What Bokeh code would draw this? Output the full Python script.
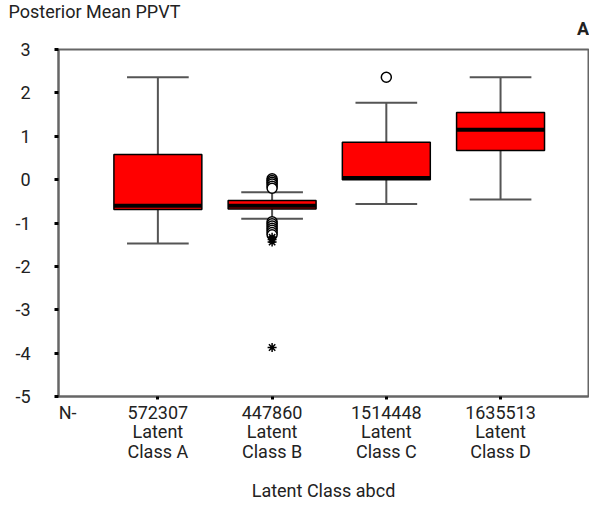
from bokeh.plotting import figure
from bokeh.models import FixedTicker, Range1d, LinearAxis, CustomLabelingPolicy
from bokeh.embed import file_html
from bokeh.resources import INLINE

categories = ["Latent\nClass A", "Latent\nClass B", "Latent\nClass C", "Latent\nClass D"]
n_counts = ["572307", "447860", "1514448", "1635513"]
q1 = [-0.69, -0.68, 0.00, 0.67]
median = [-0.60, -0.60, 0.04, 1.15]
q3 = [0.58, -0.48, 0.86, 1.55]
lower = [-1.47, -0.90, -0.56, -0.46]
upper = [2.36, -0.29, 1.77, 2.36]

circle_out_x = [2]*13 + [3]
circle_out_y = [0.02, -0.02, -0.06, -0.10, -0.15, -0.20,
                -0.97, -1.02, -1.07, -1.12, -1.17, -1.22, -1.27, 2.36]
star_out_x = [2, 2, 2, 2]
star_out_y = [-1.33, -1.38, -1.44, -3.87]

y_ticks = [-5, -4, -3, -2, -1, 0, 1, 2, 3]
y_tick_labels = ["-5", "-4", "-3", "-2", "-1", "0", "1", "2", "3"]

FONT = "Roboto"
TXT = "#222222"

p = figure(width=589, height=510, output_backend="svg", toolbar_location=None,
           x_range=Range1d(0.13, 4.77), y_range=Range1d(-5, 3),
           frame_width=530, frame_height=347,
           min_border_left=58, min_border_right=1, min_border_top=49, min_border_bottom=10)
p.grid.visible = False
p.outline_line_color = "#666666"
p.outline_line_width = 2
p.background_fill_color = "white"
p.border_fill_color = "white"

xs = [1, 2, 3, 4]
bw = 0.77
cw = 0.54
# whiskers
p.segment(x0=xs, y0=q3, x1=xs, y1=upper, line_color="#555555", line_width=2)
p.segment(x0=xs, y0=q1, x1=xs, y1=lower, line_color="#555555", line_width=2)
p.segment(x0=[x - cw/2 for x in xs], y0=upper, x1=[x + cw/2 for x in xs], y1=upper,
          line_color="#555555", line_width=2)
p.segment(x0=[x - cw/2 for x in xs], y0=lower, x1=[x + cw/2 for x in xs], y1=lower,
          line_color="#555555", line_width=2)
# boxes
p.vbar(x=xs, width=bw, top=q3, bottom=q1, fill_color="#ff0000", line_color="black", line_width=1.5)
p.segment(x0=[x - bw/2 for x in xs], y0=median, x1=[x + bw/2 for x in xs], y1=median,
          line_color="black", line_width=4)
# outliers
p.scatter(x=circle_out_x, y=circle_out_y, marker="circle", size=10,
          fill_color="white", line_color="black", line_width=1.5)
p.scatter(x=star_out_x, y=star_out_y, marker="asterisk", size=9,
          line_color="black", line_width=1.5)

# y axis
ya = p.yaxis[0]
ya.axis_line_color = "#666666"
ya.axis_line_width = 2
ya.major_tick_line_color = "black"
ya.major_tick_line_width = 3
ya.major_tick_in = 0
ya.major_tick_out = 4
ya.minor_tick_line_color = None
ya.major_label_text_font = FONT
ya.major_label_text_font_size = "18px"
ya.major_label_text_color = TXT
ya.ticker = FixedTicker(ticks=y_ticks)
ya.major_label_overrides = {t: s for t, s in zip(y_ticks, y_tick_labels)}
ya.major_label_standoff = 24

# x axis (tick marks only, nearest the frame)
xa = p.xaxis[0]
xa.ticker = FixedTicker(ticks=xs)
xa.axis_line_color = "#666666"
xa.axis_line_width = 2
xa.major_tick_line_color = "black"
xa.major_tick_line_width = 3
xa.major_tick_in = 0
xa.major_tick_out = 3
xa.minor_tick_line_color = None
xa.major_label_standoff = 0
xa.major_label_text_font_size = "1px"
xa.major_label_policy = CustomLabelingPolicy(
    code="for (const i of Array.from(indices)) { indices.unset(i) }\nreturn indices")

# x axis labels (N- and class labels)
label_ticks = [0.21] + xs
label_texts = ["N-"] + [f"{n}\n{c}" for n, c in zip(n_counts, categories)]
xl = LinearAxis(ticker=FixedTicker(ticks=label_ticks),
                major_label_overrides={t: s for t, s in zip(label_ticks, label_texts)},
                axis_line_color=None, major_tick_line_color=None, minor_tick_line_color=None,
                major_tick_out=0, major_tick_in=0, major_label_standoff=-2,
                major_label_text_font=FONT, major_label_text_font_size="18px",
                major_label_text_color=TXT, major_label_text_line_height=0.95,
                axis_label="Latent Class abcd", axis_label_text_font=FONT,
                axis_label_text_font_size="18px", axis_label_text_font_style="normal",
                axis_label_text_color=TXT, axis_label_standoff=15)
p.add_layout(xl, "below")

# panel letter on top
xa_top = LinearAxis(ticker=FixedTicker(ticks=[4.73]),
                    major_label_overrides={4.73: "A"},
                    axis_line_color=None, major_tick_line_color=None, minor_tick_line_color=None,
                    major_tick_out=0, major_tick_in=0, major_label_standoff=11,
                    major_label_text_font=FONT, major_label_text_font_size="18px",
                    major_label_text_font_style="bold", major_label_text_color=TXT)
p.add_layout(xa_top, "above")

p.title.text = "Posterior Mean PPVT"
p.title.align = "left"
p.title.offset = -50
p.title.standoff = -14
p.title.text_font = FONT
p.title.text_font_size = "18px"
p.title.text_font_style = "normal"
p.title.text_color = TXT

open("out.html", "w").write(file_html(p, INLINE))
